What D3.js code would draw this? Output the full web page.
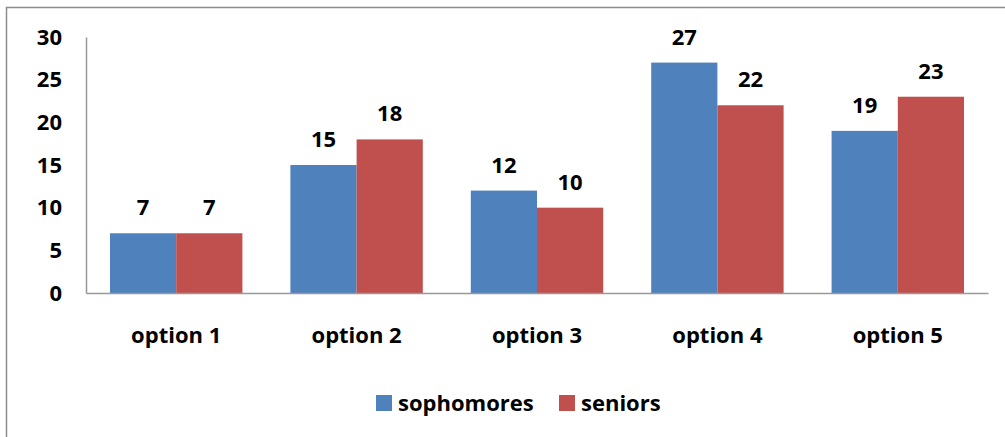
<!DOCTYPE html>
<html>
<head>
<meta charset="utf-8">
<script src="https://cdn.jsdelivr.net/npm/d3@7"></script>
<style>
  body { margin: 0; background: #fff; }
  svg { display: block; font-family: "Open Sans", sans-serif; font-weight: bold; }
</style>
</head>
<body>
<div id="chart"></div>
<script>
const categories = ["option 1", "option 2", "option 3", "option 4", "option 5"];
const seriesNames = ["sophomores", "seniors"];
const sophomores = [7, 15, 12, 27, 19];
const seniors = [7, 18, 10, 22, 23];
const yTicks = [0, 5, 10, 15, 20, 25, 30];
const colors = ["#4F81BD", "#C0504D"];

const width = 1005, height = 437;
const margin = { top: 37, right: 17, bottom: 144, left: 86 };
const innerW = width - margin.left - margin.right;
const innerH = height - margin.top - margin.bottom;
const fontFam = "'Open Sans', sans-serif";
const fontSize = 22;

const svg = d3.select("#chart").append("svg")
    .attr("width", width)
    .attr("height", height);

// outer frame (right and bottom edges fall off the picture)
svg.append("rect")
    .attr("x", 6.5).attr("y", 7.5)
    .attr("width", 1010).attr("height", 440)
    .attr("fill", "none")
    .attr("stroke", "#8c8c8c")
    .attr("stroke-width", 1.5);

const g = svg.append("g").attr("transform", `translate(${margin.left},${margin.top})`);

const x = d3.scaleBand().domain(categories).range([0, innerW]).paddingInner(0.266).paddingOuter(0.133);
const x1 = d3.scaleBand().domain(seriesNames).range([0, x.bandwidth()]);
const y = d3.scaleLinear().domain([0, 30]).range([innerH, 0]);

const rows = categories.map((c, i) => ({ cat: c, values: [sophomores[i], seniors[i]] }));

// bars
const groups = g.selectAll(".grp").data(rows).join("g")
    .attr("class", "grp")
    .attr("transform", d => `translate(${x(d.cat)},0)`);

groups.selectAll("rect").data(d => d.values.map((v, k) => ({ name: seriesNames[k], v, k })))
    .join("rect")
    .attr("x", d => x1(d.name))
    .attr("y", d => y(d.v))
    .attr("width", x1.bandwidth())
    .attr("height", d => innerH - y(d.v))
    .attr("fill", d => colors[d.k]);

groups.selectAll("text").data(d => d.values.map((v, k) => ({ name: seriesNames[k], v, k })))
    .join("text")
    .attr("x", d => x1(d.name) + x1.bandwidth() / 2)
    .attr("y", d => y(d.v) - 18)
    .attr("text-anchor", "middle")
    .attr("font-size", fontSize)
    .attr("fill", "#000")
    .text(d => d.v);

// y axis
const yAxis = g.append("g")
    .call(d3.axisLeft(y).tickValues(yTicks).tickSize(0).tickPadding(24));
yAxis.select(".domain").attr("stroke", "#999").attr("stroke-width", 1.5);
yAxis.selectAll("text").attr("font-size", fontSize).attr("font-family", fontFam).attr("font-weight", "bold").attr("fill", "#000");

// x axis
const xAxis = g.append("g")
    .attr("transform", `translate(0,${innerH})`)
    .call(d3.axisBottom(x).tickSize(0).tickPadding(34));
xAxis.select(".domain").attr("stroke", "#999").attr("stroke-width", 1.5);
xAxis.selectAll("text").attr("font-size", fontSize).attr("font-family", fontFam).attr("font-weight", "bold").attr("fill", "#000");

// legend
const legendX = [376, 559];
const legend = svg.selectAll(".leg").data(seriesNames).join("g")
    .attr("class", "leg")
    .attr("transform", (d, i) => `translate(${legendX[i]},395)`);
legend.append("rect").attr("width", 16).attr("height", 16).attr("fill", (d, i) => colors[i]);
legend.append("text")
    .attr("x", 22).attr("y", 16)
    .attr("font-size", fontSize)
    .attr("fill", "#000")
    .text(d => d);
</script>
</body>
</html>
